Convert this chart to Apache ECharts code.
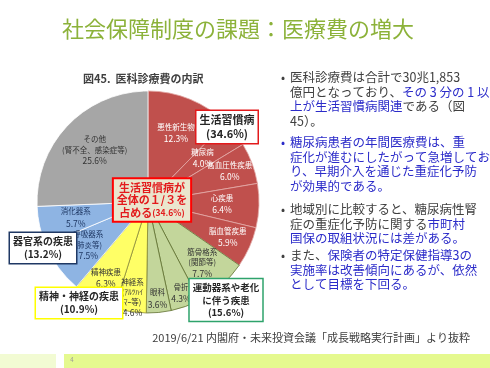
<!DOCTYPE html>
<html>
<head>
<meta charset="utf-8">
<script src="https://cdn.jsdelivr.net/npm/echarts@6/dist/echarts.min.js"></script>
<style>
html, body { margin: 0; padding: 0; background: #fff; }
#chart { width: 490px; height: 368px; }
</style>
</head>
<body>
<div id="chart"></div>
<script>
// slices clockwise from 12 o'clock
var names = ['悪性新生物', '糖尿病', '高血圧性疾患', '心疾患', '脳血管疾患', '筋骨格系', '骨折', '眼科', '神経系', '精神疾患', '呼吸器系', '消化器系', 'その他'];
var subs = ['', '', '', '', '', '(関節等)', '', '', '(ｱﾙﾂﾊｲ\nﾏｰ等)', '', '(肺炎等)', '', '(腎不全、感染症等)'];
var values = [12.3, 4.0, 6.0, 6.4, 5.9, 7.7, 4.3, 3.6, 4.6, 6.3, 7.5, 5.7, 25.6];
var groups = [0, 0, 0, 0, 0, 1, 1, 1, 2, 2, 3, 3, 4];
var groupNames = ['生活習慣病', '運動器系や老化\nに伴う疾患', '精神・神経の疾患', '器官系の疾患'];
var groupTotals = [34.6, 15.6, 10.9, 13.2];

var fills = ['#C0504D', '#C3D69B', '#FFFF66', '#8EB4E3', '#A6A6A6'];
var borders = ['#E3A9A7', '#5F7030', '#8A8A3A', '#FFFFFF', '#FFFFFF'];
var textCols = ['#FFFFFF', '#333333', '#333333', '#1F3864', '#333333'];
var boxBorders = ['#E31A1C', '#2EA36B', '#FFFF00', '#1F3864'];
// which ring each slice label sits on
var ring = [0, 3, 1, 0, 1, 4, 2, 2, 2, 1, 0, 0, 0];
var ringFactor = [0.64, 0.76, 0.85, 0.6, 0.71];

var FONT = '"Noto Sans CJK JP", "Noto Sans", sans-serif';
var CX = 148, CY = 202, R = 111;

var myChart = echarts.init(document.getElementById('chart'));

function labelText(p) {
    var i = p.dataIndex;
    var s = '{n|' + names[i] + '}';
    if (subs[i]) {
        s += '\n{s|' + subs[i].split('\n').join('}\n{s|') + '}';
    }
    s += '\n{p|' + values[i].toFixed(1) + '%}';
    return s;
}

function labelSeries(k) {
    return {
        type: 'pie',
        center: [CX, CY],
        radius: [0, R * ringFactor[k] * 2],
        startAngle: 90,
        silent: true,
        avoidLabelOverlap: false,
        labelLayout: { hideOverlap: false },
        z: 5,
        animation: false,
        itemStyle: { color: 'rgba(0,0,0,0)', borderWidth: 0 },
        labelLine: { show: false },
        emphasis: { disabled: true },
        label: {
            position: 'inside',
            fontFamily: FONT,
            formatter: labelText,
            rich: {
                n: { fontSize: 7.5, lineHeight: 11, fontFamily: FONT },
                s: { fontSize: 7.5, lineHeight: 9.5, fontFamily: FONT },
                p: { fontSize: 8.5, lineHeight: 13, fontFamily: FONT }
            }
        },
        data: names.map(function (n, i) {
            return {
                name: n,
                value: values[i],
                label: { show: ring[i] === k, color: textCols[groups[i]] }
            };
        })
    };
}

// callout boxes
function box(text, x, y, border, size) {
    return {
        type: 'text',
        z: 20,
        style: {
            text: text,
            x: x,
            y: y,
            align: 'center',
            verticalAlign: 'middle',
            font: 'bold ' + size + 'px ' + FONT,
            lineHeight: size + 3,
            fill: '#262626',
            backgroundColor: '#FFFFFF',
            borderColor: border,
            borderWidth: 1.5,
            padding: [2, 3]
        }
    };
}

function pct(v) {
    return '(' + v.toFixed(1) + '%)';
}

var kc = '#404040', bc = '#2B2BC9';
var bullets = [
    { y: 70, dot: kc, text: '{k|医科診療費は合計で30兆1,853}\n{k|億円となっており、}{b|その 3 分の 1 以}\n{b|上が生活習慣病関連}{k|である（図}\n{k|45）。}' },
    { y: 135, dot: bc, text: '{b|糖尿病患者の年間医療費は、重}\n{b|症化が進むにしたがって急増してお}\n{b|り、早期介入を通じた重症化予防}\n{b|が効果的である。}' },
    { y: 202, dot: kc, text: '{k|地域別に比較すると、糖尿病性腎}\n{k|症の重症化予防に関する}{b|市町村}\n{b|国保の取組状況には差がある。}' },
    { y: 248, dot: kc, text: '{k|また、}{b|保険者の特定保健指導3の}\n{b|実施率は改善傾向にあるが、依然}\n{b|として目標を下回る。}' }
];

var graphics = [
    { type: 'text', style: { text: '社会保障制度の課題：医療費の増大', x: 238, y: 29, align: 'center', verticalAlign: 'middle', font: '22px ' + FONT, fill: '#8CB23A' } },
    { type: 'text', style: { text: '図45.  医科診療費の内訳', x: 83, y: 79, align: 'left', verticalAlign: 'middle', font: 'bold 11px ' + FONT, fill: '#404040' } },
    box(groupNames[0] + '\n' + pct(groupTotals[0]), 227, 127, boxBorders[0], 11),
    box(groupNames[3] + '\n' + pct(groupTotals[3]), 43, 248, boxBorders[3], 10),
    box(groupNames[2] + '\n' + pct(groupTotals[2]), 79, 303, boxBorders[2], 10),
    box(groupNames[1] + '\n' + pct(groupTotals[1]), 226, 300, boxBorders[1], 9.5),
    {
        type: 'text', z: 20,
        style: {
            text: '{a|生活習慣病が}\n{a|全体の１/３を}\n{a|占める}{c|(' + groupTotals[0].toFixed(1) + '%)}',
            x: 152, y: 200, align: 'center', verticalAlign: 'middle',
            fill: '#E31A1C', backgroundColor: '#EAE6CE', borderColor: '#FF0000', borderWidth: 2,
            padding: [2, 3],
            rich: {
                a: { font: 'bold 11px ' + FONT, lineHeight: 12.5, fill: '#E31A1C' },
                c: { font: 'bold 8.5px ' + FONT, lineHeight: 12.5, fill: '#E31A1C' }
            }
        }
    },
    { type: 'text', style: { text: '2019/6/21 内閣府・未来投資会議「成長戦略実行計画」より抜粋', x: 470, y: 338, align: 'right', verticalAlign: 'middle', font: '11px ' + FONT, fill: '#404040' } },
    { type: 'rect', shape: { x: 0, y: 354, width: 56, height: 14 }, style: { fill: '#F2FBD3' } },
    { type: 'rect', shape: { x: 64, y: 354, width: 426, height: 14 }, style: { fill: '#E5F98F' } },
    { type: 'text', style: { text: '4', x: 72, y: 360, align: 'center', verticalAlign: 'middle', font: '6px ' + FONT, fill: '#999999' } }
];

bullets.forEach(function (b) {
    graphics.push({ type: 'text', style: { text: '•', x: 283, y: b.y + 7, align: 'center', verticalAlign: 'middle', font: '12px ' + FONT, fill: b.dot } });
    graphics.push({
        type: 'text',
        style: {
            text: b.text, x: 290, y: b.y, align: 'left', verticalAlign: 'top',
            rich: {
                k: { font: '12.5px ' + FONT, lineHeight: 14.5, fill: kc },
                b: { font: '12.5px ' + FONT, lineHeight: 14.5, fill: bc }
            }
        }
    });
});

var option = {
    animation: false,
    textStyle: { fontFamily: FONT },
    graphic: graphics,
    series: [
        {
            type: 'pie',
            center: [CX, CY],
            radius: R,
            startAngle: 90,
            silent: true,
            label: { show: false },
            labelLine: { show: false },
            data: names.map(function (n, i) {
                var g = groups[i];
                return {
                    name: n,
                    value: values[i],
                    itemStyle: { color: fills[g], borderColor: borders[g], borderWidth: 0.8 }
                };
            })
        },
        labelSeries(0),
        labelSeries(1),
        labelSeries(2),
        labelSeries(3),
        labelSeries(4)
    ]
};

myChart.setOption(option);
</script>
</body>
</html>
